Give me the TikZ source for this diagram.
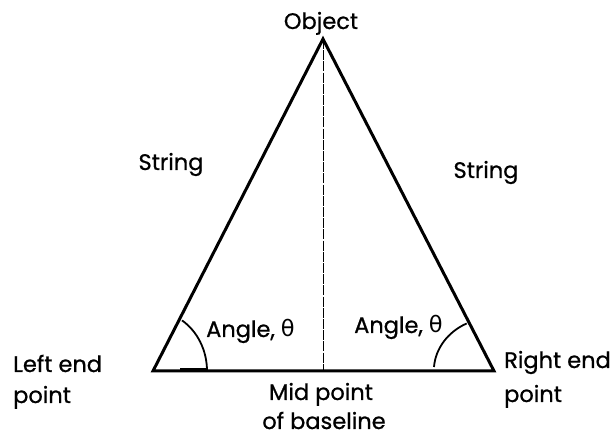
\documentclass[tikz,border=0pt]{standalone}
\usepackage{fontspec}
\setmainfont{Poppins}[FakeBold=0.8]
\newfontfamily\thetafont{DejaVu Sans}
\usetikzlibrary{calc}
\newcommand{\mytheta}{{\thetafont θ}}
\begin{document}
\begin{tikzpicture}[x=1pt,y=-1pt,
  lbl/.style={inner sep=0pt, font=\fontsize{22.5}{33}\selectfont},
  side/.style={line width=3pt, line join=miter},
  arcline/.style={line width=1.8pt},
  midline/.style={line width=1pt, dash pattern=on 10pt off 1.2pt}]
\useasboundingbox (0,0) rectangle (614,438);
\coordinate (A) at (323,39);
\coordinate (L) at (153,371);
\coordinate (R) at (494,371);
\coordinate (M) at (323,371);
\draw[midline] (A) -- (M);
\draw[side] (L) -- (A) -- (R) -- cycle;
% left angle arc
\draw[arcline] ($(L)+(54,0)$) arc[start angle=0, end angle=57.5, x radius=54pt, y radius=60pt];
\draw[line width=3pt] (180,369.5) -- (207,369.5);
% right angle arc
\draw[arcline] ($(R)+(-60,-4)$) arc[start angle=176, end angle=117, x radius=60pt, y radius=53pt];
\node[lbl, anchor=base] (obj) at (321,29) {Object};
\node[lbl, anchor=base] (sl) at (171,170) {String};
\node[lbl, anchor=base] (sr) at (486,178) {String};
\node[lbl, anchor=base west] (al) at (206,337) {Angle, \mytheta};
\node[lbl, anchor=base west] (ar) at (354,333) {Angle, \mytheta};
\node[lbl, anchor=base west] (le1) at (13,372) {Left end};
\node[lbl, anchor=base west] (le2) at (13,403) {point};
\node[lbl, anchor=base west] (re1) at (504,368) {Right end};
\node[lbl, anchor=base west] (re2) at (504,402) {point};
\node[lbl, anchor=base] (m1) at (321,400) {Mid point};
\node[lbl, anchor=base] (m2) at (324,429) {of baseline};
\end{tikzpicture}
\end{document}
